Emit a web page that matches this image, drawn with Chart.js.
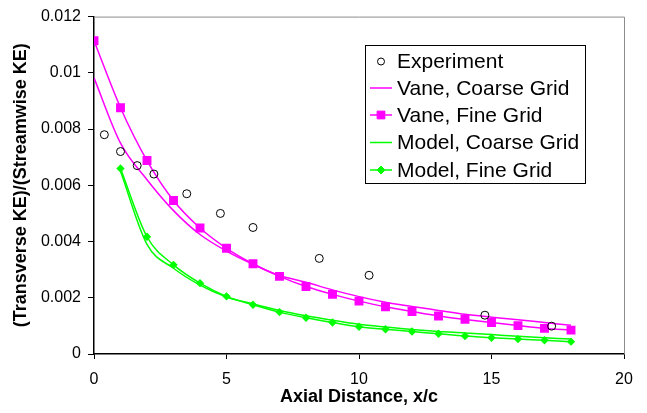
<!DOCTYPE html>
<html lang="en">
<head>
  <meta charset="UTF-8">
  <title>Transverse / Streamwise KE</title>
  <style>
    html, body { margin: 0; padding: 0; background: #fff; }
    #wrap { width: 647px; height: 413px; }
  </style>
</head>
<body>
  <div id="wrap"><canvas id="myChart" width="647" height="413"></canvas></div>

  <script src="https://cdn.jsdelivr.net/npm/chart.js"></script>
  <script>
    // ---- data ----
    const expX = [0.39, 1.0, 1.63, 2.26, 3.5, 4.77, 6.0, 8.5, 10.38, 14.75, 17.27];
    const expY = [0.0078, 0.0072, 0.0067, 0.0064, 0.0057, 0.0050, 0.0045, 0.0034, 0.0028, 0.00138, 0.00099];

    const vaneX = [0, 1, 2, 3, 4, 5, 6, 7, 8, 9, 10, 11, 12, 13, 14, 15, 16, 17, 18];
    const vaneCoarseY = [0.00982, 0.0075, 0.0062, 0.0051, 0.00425, 0.00366, 0.00319, 0.00279, 0.00255, 0.00228,
      0.00204, 0.00184, 0.00169, 0.00155, 0.00141, 0.00131, 0.00122, 0.00112, 0.00102];
    const vaneFineY = [0.01114, 0.00876, 0.00688, 0.00546, 0.00448, 0.00376, 0.00321, 0.00276, 0.0024, 0.00212,
      0.00188, 0.00168, 0.00151, 0.00135, 0.00123, 0.00112, 0.00101, 0.00091, 0.00085];

    const modelX = [1, 2, 3, 4, 5, 6, 7, 8, 9, 10, 11, 12, 13, 14, 15, 16, 17, 18];
    const modelCoarseY = [0.0065, 0.0039, 0.00305, 0.00245, 0.00203, 0.00178, 0.00155, 0.00136, 0.0012, 0.00106,
      0.00096, 0.00087, 0.0008, 0.00075, 0.00069, 0.00063, 0.00058, 0.00053];
    const modelFineY = [0.0066, 0.00417, 0.00317, 0.00252, 0.00205, 0.00175, 0.00149, 0.00129, 0.00112, 0.00097,
      0.00088, 0.0008, 0.00072, 0.00064, 0.00058, 0.00053, 0.00049, 0.00044];

    const seriesLabels = ['Experiment', 'Vane, Coarse Grid', 'Vane, Fine Grid', 'Model, Coarse Grid', 'Model, Fine Grid'];
    const xTitle = 'Axial Distance, x/c';
    const yTitle = '(Transverse KE)/(Streamwise KE)';

    const FONT = "'Liberation Sans', Arial, sans-serif";
    const MAGENTA = '#ff00ff';
    const GREEN = '#00ff00';

    function pts(xs, ys) {
      return xs.map(function (x, i) { return { x: x, y: ys[i] }; });
    }

    // gray top/right frame
    const framePlugin = {
      id: 'frame',
      beforeDatasetsDraw(chart) {
        const a = chart.chartArea;
        const ctx = chart.ctx;
        ctx.save();
        ctx.strokeStyle = '#8c8c8c';
        ctx.lineWidth = 1;
        ctx.beginPath();
        ctx.moveTo(a.left, a.top + 0.5);
        ctx.lineTo(a.right + 0.5, a.top + 0.5);
        ctx.lineTo(a.right + 0.5, a.bottom);
        ctx.stroke();
        ctx.restore();
      }
    };

    // legend box inside the plot
    const boxLegend = {
      id: 'boxLegend',
      afterDraw(chart) {
        const ctx = chart.ctx;
        const left = 365, top = 45, w = 220, h = 138;
        const rows = [61.5, 88, 115, 142.5, 170];
        ctx.save();
        ctx.fillStyle = '#fff';
        ctx.fillRect(left, top, w, h);
        ctx.strokeStyle = '#000';
        ctx.lineWidth = 1;
        ctx.strokeRect(left + 0.5, top + 0.5, w, h);

        chart.data.datasets.forEach(function (ds, i) {
          const y = rows[i];
          const cx = 381;
          if (ds.showLine) {
            ctx.strokeStyle = ds.borderColor;
            ctx.lineWidth = 1.5;
            ctx.beginPath();
            ctx.moveTo(370, y);
            ctx.lineTo(392, y);
            ctx.stroke();
          }
          if (ds.pointRadius > 0) {
            ctx.fillStyle = ds.pointBackgroundColor;
            ctx.strokeStyle = ds.pointBorderColor;
            ctx.lineWidth = ds.pointBorderWidth || 1;
            Chart.helpers.drawPoint(ctx, {
              pointStyle: ds.pointStyle,
              rotation: 0,
              radius: ds.pointStyle === 'circle' ? 3.5 : (ds.pointStyle === 'rect' ? 5.5 : 4),
              borderWidth: ds.pointBorderWidth || 1
            }, cx, y);
          }
          ctx.fillStyle = '#000';
          ctx.font = '21px ' + FONT;
          ctx.textAlign = 'left';
          ctx.textBaseline = 'middle';
          ctx.fillText(ds.label, 397, y + 1);
        });
        ctx.restore();
      }
    };

    const ctx = document.getElementById('myChart');
    new Chart(ctx, {
      type: 'scatter',
      data: {
        datasets: [
          {
            label: seriesLabels[0],
            data: pts(expX, expY),
            showLine: false,
            pointStyle: 'circle',
            pointRadius: 4,
            pointBorderWidth: 1,
            pointBorderColor: '#000',
            pointBackgroundColor: 'rgba(0,0,0,0)',
            borderColor: '#000'
          },
          {
            label: seriesLabels[1],
            data: pts(vaneX, vaneCoarseY),
            showLine: true,
            borderColor: MAGENTA,
            borderWidth: 1.5,
            cubicInterpolationMode: 'monotone',
            pointRadius: 0,
            pointStyle: false
          },
          {
            label: seriesLabels[2],
            data: pts(vaneX, vaneFineY),
            showLine: true,
            borderColor: MAGENTA,
            borderWidth: 1.5,
            cubicInterpolationMode: 'monotone',
            pointStyle: 'rect',
            pointRadius: 6.3,
            pointBorderWidth: 0,
            pointBackgroundColor: MAGENTA,
            pointBorderColor: MAGENTA
          },
          {
            label: seriesLabels[3],
            data: pts(modelX, modelCoarseY),
            showLine: true,
            borderColor: GREEN,
            borderWidth: 1.5,
            cubicInterpolationMode: 'monotone',
            pointRadius: 0,
            pointStyle: false
          },
          {
            label: seriesLabels[4],
            data: pts(modelX, modelFineY),
            showLine: true,
            borderColor: GREEN,
            borderWidth: 1.5,
            cubicInterpolationMode: 'monotone',
            pointStyle: 'rectRot',
            pointRadius: 4.2,
            pointBorderWidth: 0,
            pointBackgroundColor: GREEN,
            pointBorderColor: GREEN
          }
        ]
      },
      options: {
        responsive: false,
        animation: false,
        layout: { padding: { top: 13, right: 23, left: 0, bottom: 0 } },
        plugins: {
          legend: { display: false },
          tooltip: { enabled: false }
        },
        scales: {
          x: {
            type: 'linear',
            min: 0,
            max: 20,
            afterFit(scale) { scale.height = 59; },
            ticks: {
              stepSize: 5,
              color: '#000',
              padding: 11,
              font: { family: FONT, size: 16 }
            },
            grid: {
              drawOnChartArea: false,
              drawTicks: true,
              tickLength: 5,
              color: '#000'
            },
            border: { display: true, color: '#000', width: 1.5 },
            title: {
              display: true,
              text: xTitle,
              color: '#000',
              font: { family: FONT, size: 18, weight: 'bold' },
              padding: { top: 0, bottom: 5 }
            }
          },
          y: {
            min: 0,
            max: 0.012,
            afterFit(scale) { scale.width = 94; },
            ticks: {
              stepSize: 0.002,
              color: '#000',
              padding: 7,
              font: { family: FONT, size: 16 },
              callback: function (v) { return String(parseFloat(Number(v).toFixed(3))); }
            },
            grid: {
              drawOnChartArea: false,
              drawTicks: true,
              tickLength: 6,
              color: '#000'
            },
            border: { display: true, color: '#000', width: 1.5 },
            title: {
              display: true,
              text: yTitle,
              color: '#000',
              font: { family: FONT, size: 18, weight: 'bold' },
              padding: { top: 10, bottom: 0 }
            }
          }
        }
      },
      plugins: [framePlugin, boxLegend]
    });
  </script>
</body>
</html>
